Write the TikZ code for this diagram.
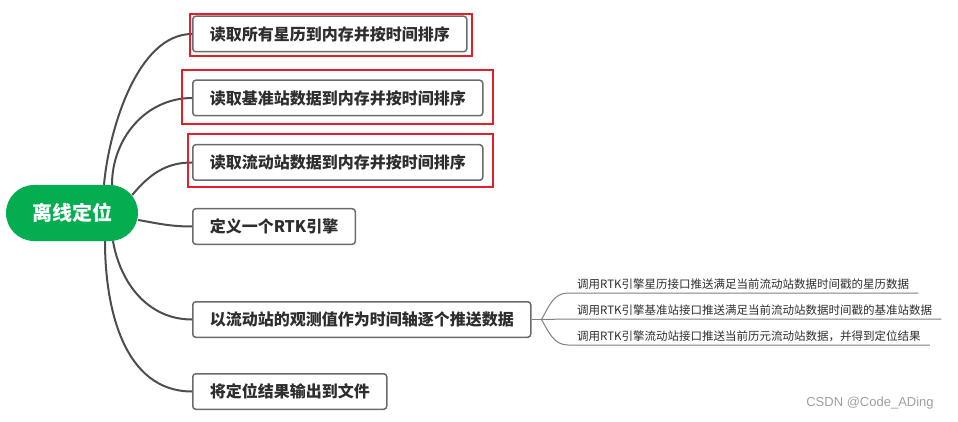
\documentclass[tikz,border=0pt]{standalone}
\usepackage{fontspec}
\setmainfont{Noto Sans CJK SC}
\newfontfamily\wmfont{Liberation Sans}
\usetikzlibrary{positioning,calc}

\definecolor{rootgreen}{HTML}{03AD50}
\definecolor{linegray}{HTML}{4D4D4D}
\definecolor{boxgray}{HTML}{6B6B6B}
\definecolor{markred}{HTML}{E61E28}
\definecolor{subgray}{HTML}{808080}
\definecolor{textdark}{HTML}{2E2E2E}

\begin{document}
\begin{tikzpicture}[
    x=1pt, y=-1pt,
    root/.style={rectangle, fill=rootgreen, rounded corners=28pt, minimum width=132pt, minimum height=56pt, text=white, font=\fontsize{20}{24}\selectfont\bfseries},
    topic/.style={rectangle, anchor=west, draw=boxgray, line width=1.5pt, fill=white, rounded corners=3pt, minimum height=35.5pt, inner xsep=17pt, text=textdark, font=\fontsize{16}{19}\selectfont\bfseries},
    subtopic/.style={inner xsep=9pt, inner ysep=3pt, anchor=south west, text=textdark, font=\fontsize{11.5}{13}\selectfont},
    branch/.style={draw=linegray, line width=2pt},
    twig/.style={draw=subgray, line width=1pt},
    redmark/.style={draw=markred, line width=2pt}
]
    \useasboundingbox (0,0) rectangle (958,422);

    % Root
    \node [root] (root) at (72,213) {离线定位};

    % Topics
    \node [topic] (readeph) at (192,34) {读取所有星历到内存并按时间排序};
    \node [topic] (readbase) at (192,98) {读取基准站数据到内存并按时间排序};
    \node [topic] (readrover) at (192,162.5) {读取流动站数据到内存并按时间排序};
    \node [topic] (defeng) at (192,226.5) {定义一个RTK引擎};
    \node [topic] (push) at (192,319.5) {以流动站的观测值作为时间轴逐个推送数据};
    \node [topic] (output) at (192,391.5) {将定位结果输出到文件};

    % Branches
    \draw [branch] ([xshift=32pt]root.north) to[out=85, in=180, looseness=0.8] (readeph.west);
    \draw [branch] ([xshift=40pt]root.north) to[out=90, in=180] (readbase.west);
    \draw [branch] ([shift={(-6pt,18pt)}]root.east) to[out=50, in=180] (readrover.west);
    \draw [branch] ([yshift=-7pt]root.east) to[out=-10, in=180] (defeng.west);
    \draw [branch] ([xshift=41pt]root.south) to[out=-80, in=180] (push.west);
    \draw [branch] ([xshift=33pt]root.south) to[out=-90, in=180] (output.west);

    % Sub topics
    \coordinate [right=10pt of push.east] (fork);
    \node [subtopic] (subeph) at (568,293) {调用RTK引擎星历接口推送满足当前流动站数据时间戳的星历数据};
    \node [subtopic] (subbase) at (568,319) {调用RTK引擎基准站接口推送满足当前流动站数据时间戳的基准站数据};
    \node [subtopic] (subrover) at (568,345) {调用RTK引擎流动站接口推送当前历元流动站数据，并得到定位结果};

    \draw [twig] (push.east) -- (fork);
    \draw [twig] (fork) to[out=60, in=180] (subeph.south west) -- (subeph.south east);
    \draw [twig] (fork) -- (subbase.south west) -- (subbase.south east);
    \draw [twig] (fork) to[out=-60, in=180] (subrover.south west) -- (subrover.south east);

    % Red marks
    \draw [redmark] ([shift={(-2pt,1pt)}]readeph.north west) rectangle ([shift={(4pt,-4pt)}]readeph.south east);
    \draw [redmark] ([shift={(-10pt,9pt)}]readbase.north west) rectangle ([shift={(9pt,-8pt)}]readbase.south east);
    \draw [redmark] ([shift={(-4pt,9.5pt)}]readrover.north west) rectangle ([shift={(9pt,-6.5pt)}]readrover.south east);

    % Watermark
    \node [text=gray!75, font=\wmfont\fontsize{13}{15}\selectfont] (mark) at (870,403) {CSDN @Code\_ADing};
\end{tikzpicture}
\end{document}
